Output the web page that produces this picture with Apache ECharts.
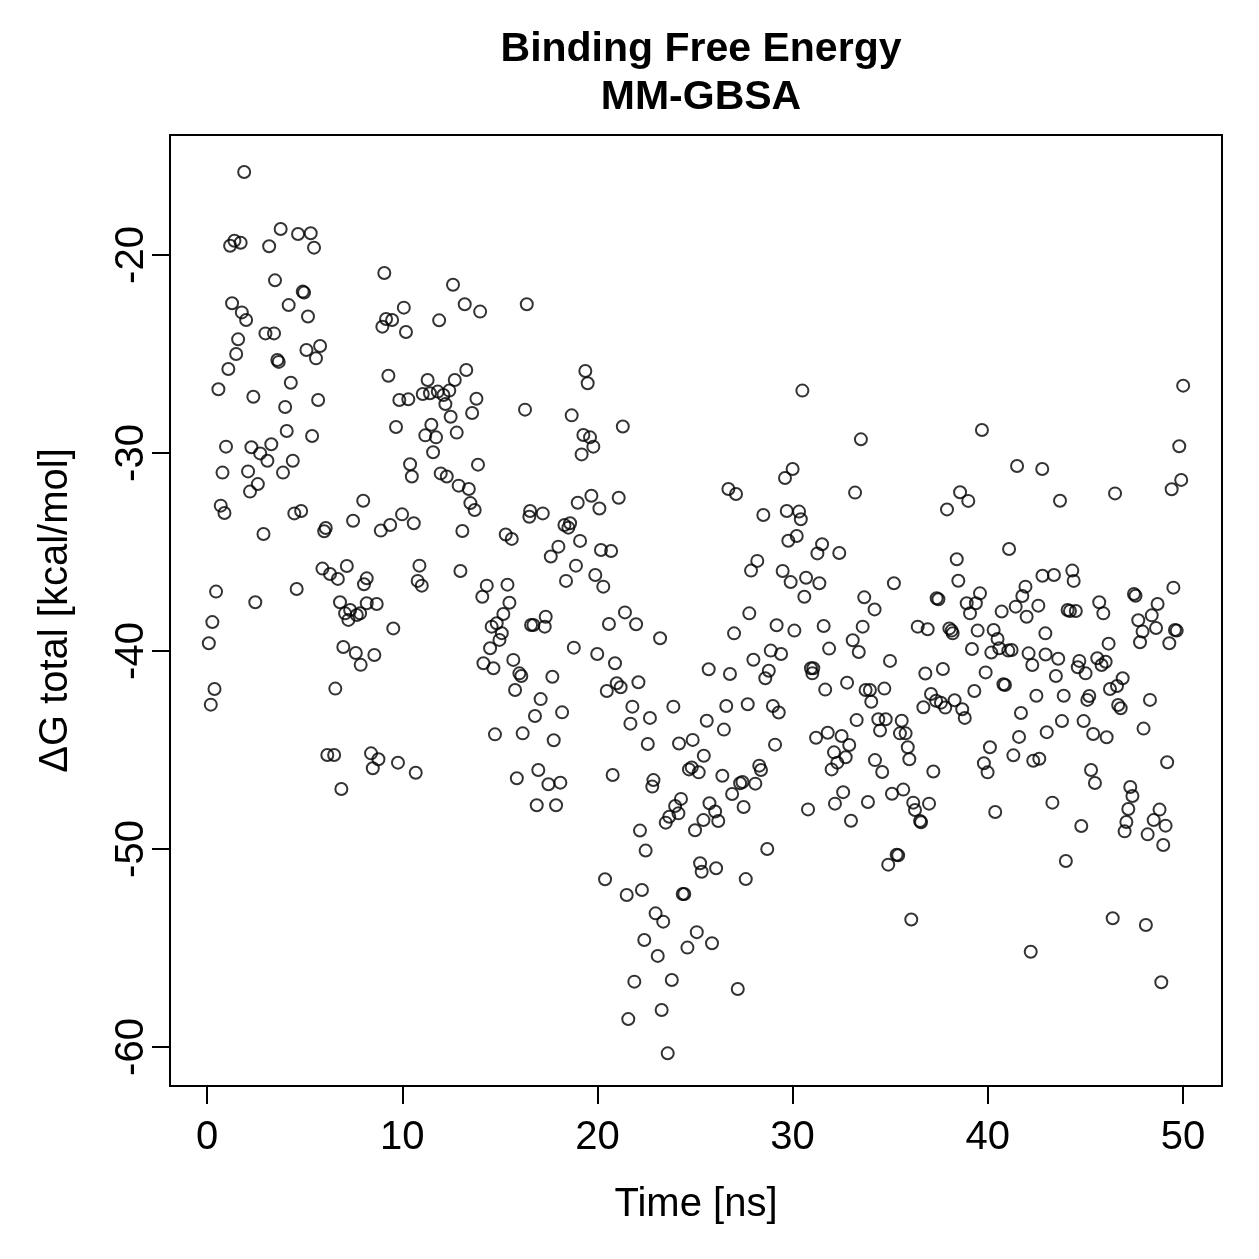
<!DOCTYPE html>
<html>
<head>
<meta charset="utf-8">
<script src="https://cdn.jsdelivr.net/npm/echarts@6/dist/echarts.min.js"></script>
<style>
  html, body { margin: 0; padding: 0; background: #fff; }
  #main { width: 1259px; height: 1259px; }
</style>
</head>
<body>
<div id="main"></div>
<script>
// simulation time [ns]
var time = [
  0.09,0.19,0.27,0.38,0.46,0.58,0.70,0.79,0.89,0.97,
  1.09,1.18,1.28,1.40,1.49,1.59,1.72,1.78,1.90,2.00,
  2.10,2.20,2.27,2.37,2.47,2.60,2.72,2.89,2.99,3.09,
  3.18,3.29,3.43,3.48,3.60,3.67,3.77,3.89,4.00,4.08,
  4.18,4.29,4.39,4.47,4.59,4.66,4.82,4.90,4.97,5.09,
  5.17,5.31,5.38,5.48,5.58,5.69,5.79,5.91,6.00,6.08,
  6.16,6.30,6.51,6.57,6.70,6.81,6.88,6.98,7.07,7.16,
  7.24,7.33,7.48,7.62,7.67,7.84,7.87,8.00,8.04,8.18,
  8.18,8.40,8.49,8.57,8.69,8.78,8.90,8.98,9.08,9.17,
  9.29,9.38,9.48,9.54,9.68,9.78,9.85,9.99,10.08,10.19,
  10.31,10.40,10.49,10.59,10.69,10.79,10.88,11.00,11.05,11.18,
  11.30,11.42,11.49,11.58,11.73,11.82,11.89,11.97,12.11,12.21,
  12.28,12.41,12.48,12.60,12.69,12.79,12.89,12.98,13.08,13.20,
  13.28,13.41,13.49,13.58,13.71,13.80,13.88,13.99,14.10,14.16,
  14.33,14.50,14.58,14.67,14.75,14.84,14.98,15.10,15.18,15.30,
  15.39,15.49,15.61,15.69,15.78,15.87,16.00,16.10,16.17,16.29,
  16.38,16.51,16.55,16.60,16.72,16.80,16.89,16.97,17.09,17.20,
  17.30,17.35,17.49,17.61,17.69,17.76,17.88,18.00,18.10,18.19,
  18.31,18.39,18.51,18.60,18.68,18.79,18.90,18.99,19.11,19.19,
  19.28,19.38,19.50,19.62,19.69,19.79,19.89,19.99,20.10,20.18,
  20.30,20.39,20.48,20.59,20.70,20.78,20.90,20.99,21.09,21.19,
  21.30,21.41,21.50,21.58,21.69,21.79,21.89,21.98,22.10,22.18,
  22.28,22.40,22.47,22.58,22.69,22.81,22.87,22.98,23.09,23.21,
  23.29,23.37,23.50,23.60,23.68,23.81,23.89,23.98,24.15,24.18,
  24.28,24.37,24.45,24.61,24.69,24.83,24.88,25.00,25.09,25.19,
  25.26,25.34,25.43,25.45,25.60,25.70,25.74,25.87,26.03,26.08,
  26.19,26.40,26.48,26.60,26.71,26.79,26.90,27.00,27.10,27.19,
  27.31,27.43,27.49,27.60,27.70,27.78,27.87,27.99,28.09,28.19,
  28.29,28.38,28.50,28.60,28.70,28.78,28.88,28.99,29.10,29.18,
  29.29,29.41,29.49,29.61,29.70,29.78,29.90,30.00,30.09,30.21,
  30.33,30.42,30.50,30.60,30.69,30.79,30.94,31.01,31.06,31.20,
  31.27,31.37,31.51,31.59,31.67,31.80,31.87,32.00,32.12,32.17,
  32.29,32.39,32.51,32.59,32.72,32.79,32.90,32.99,33.08,33.20,
  33.28,33.39,33.50,33.59,33.67,33.74,33.86,33.96,34.03,34.20,
  34.22,34.39,34.48,34.59,34.70,34.77,34.90,34.99,35.09,35.19,
  35.33,35.41,35.50,35.59,35.67,35.79,35.90,35.98,36.08,36.18,
  36.27,36.41,36.53,36.58,36.70,36.80,36.92,36.99,37.09,37.21,
  37.35,37.38,37.47,37.60,37.70,37.82,37.91,38.03,38.15,38.20,
  38.30,38.41,38.49,38.58,38.69,38.82,38.92,39.00,39.09,39.19,
  39.31,39.39,39.48,39.60,39.70,39.80,39.89,39.99,40.11,40.18,
  40.30,40.38,40.50,40.59,40.71,40.80,40.88,41.05,41.09,41.22,
  41.31,41.43,41.50,41.60,41.70,41.77,41.93,41.99,42.09,42.20,
  42.28,42.33,42.49,42.59,42.64,42.79,42.80,42.95,42.96,43.02,
  43.31,43.39,43.49,43.61,43.70,43.80,43.89,44.00,44.09,44.21,
  44.33,44.40,44.51,44.61,44.69,44.79,44.91,45.01,45.10,45.20,
  45.29,45.40,45.49,45.61,45.71,45.83,45.92,46.04,46.09,46.19,
  46.26,46.40,46.52,46.62,46.68,46.81,46.91,47.01,47.10,47.20,
  47.30,47.41,47.49,47.57,47.71,47.80,47.93,47.98,48.10,48.19,
  48.31,48.40,48.50,48.62,48.70,48.80,48.89,48.99,49.11,49.19,
  49.30,49.42,49.51,49.59,49.68,49.81,49.91,50.01
];

// total binding free energy [kcal/mol], same order as time
var dG = [
  -39.61,-42.71,-38.54,-41.92,-37.00,-26.78,-32.66,-30.99,-33.03,-29.68,
  -25.76,-19.53,-22.44,-19.28,-25.00,-24.26,-19.38,-22.90,-15.81,-23.28,
  -30.93,-31.95,-29.71,-27.16,-37.54,-31.57,-30.02,-34.09,-23.96,-30.39,
  -19.56,-29.56,-23.96,-21.28,-25.30,-25.40,-18.69,-30.99,-27.68,-28.89,
  -22.53,-26.45,-30.39,-33.05,-36.87,-18.94,-32.93,-21.85,-21.90,-24.80,
  -23.11,-18.90,-29.14,-19.63,-25.22,-27.32,-24.60,-35.84,-33.95,-33.79,
  -45.25,-36.11,-45.25,-41.90,-36.36,-37.54,-46.97,-39.80,-38.10,-35.71,
  -38.43,-37.93,-33.42,-40.10,-38.18,-38.10,-40.70,-32.41,-36.63,-36.33,
  -37.59,-45.17,-45.92,-40.20,-37.63,-45.47,-33.92,-23.62,-20.91,-23.23,
  -26.10,-33.64,-23.28,-38.86,-28.69,-45.64,-27.32,-33.10,-22.66,-23.89,
  -27.29,-30.57,-31.19,-33.55,-46.15,-36.46,-35.69,-36.70,-27.02,-29.11,
  -26.31,-26.98,-28.57,-29.96,-29.21,-26.90,-23.30,-31.03,-27.07,-27.53,
  -31.19,-26.85,-28.17,-21.50,-26.31,-28.97,-31.65,-35.96,-33.94,-22.49,
  -25.81,-31.82,-32.53,-27.98,-32.88,-27.26,-30.59,-22.86,-37.26,-40.62,
  -36.70,-39.86,-38.77,-40.87,-44.21,-38.60,-39.44,-39.10,-38.13,-34.12,
  -36.65,-37.56,-34.34,-40.45,-41.97,-46.43,-41.13,-41.26,-44.16,-27.81,
  -22.49,-33.22,-32.93,-38.69,-38.69,-43.28,-47.79,-46.01,-42.43,-33.05,
  -38.77,-38.27,-46.73,-35.23,-41.30,-44.51,-47.79,-34.73,-46.65,-43.10,
  -33.64,-36.46,-33.77,-33.55,-28.10,-39.83,-35.69,-32.51,-34.44,-30.07,
  -29.09,-25.86,-26.48,-29.21,-32.16,-29.68,-36.16,-40.15,-32.80,-34.90,
  -36.75,-51.53,-42.02,-38.64,-34.95,-46.26,-40.62,-41.63,-32.26,-41.83,
  -28.66,-38.05,-52.32,-58.59,-43.67,-42.81,-56.70,-38.65,-41.58,-49.07,
  -52.07,-54.60,-50.08,-44.70,-43.38,-46.85,-46.52,-53.25,-55.40,-39.36,
  -58.13,-53.67,-48.67,-60.32,-48.37,-56.62,-42.81,-47.83,-48.20,-44.67,
  -47.47,-52.27,-52.27,-54.98,-45.98,-45.88,-44.49,-49.05,-54.20,-46.13,
  -50.72,-51.15,-48.54,-45.29,-43.52,-40.92,-47.69,-54.76,-48.11,-50.97,
  -48.59,-46.30,-43.97,-42.78,-31.82,-41.16,-47.22,-39.11,-32.07,-57.07,
  -46.68,-46.62,-47.88,-51.52,-42.69,-38.10,-35.94,-40.44,-46.70,-35.45,
  -45.79,-46.01,-33.13,-41.38,-50.00,-41.00,-39.98,-42.78,-44.73,-38.70,
  -43.11,-40.15,-35.96,-31.26,-32.93,-34.43,-36.52,-30.81,-38.97,-34.19,
  -32.96,-33.35,-26.85,-37.26,-36.30,-48.00,-40.87,-41.13,-40.87,-44.38,
  -35.07,-36.58,-34.61,-38.74,-41.95,-44.13,-39.88,-45.98,-45.12,-47.71,
  -45.64,-35.05,-44.29,-47.13,-45.37,-41.60,-44.75,-48.57,-39.46,-32.00,
  -43.49,-40.05,-29.31,-38.77,-37.29,-41.97,-47.63,-41.97,-42.56,-37.90,
  -45.51,-43.45,-44.02,-46.11,-41.90,-43.45,-50.79,-40.50,-47.21,-36.58,
  -50.29,-50.32,-44.16,-43.52,-47.00,-44.16,-44.86,-45.47,-53.56,-47.66,
  -48.03,-38.77,-48.59,-48.65,-42.84,-41.14,-38.90,-47.71,-42.17,-46.09,
  -42.51,-37.34,-37.39,-42.61,-40.91,-42.86,-32.85,-38.86,-38.97,-39.11,
  -42.49,-35.37,-36.45,-31.98,-42.94,-43.38,-37.59,-32.42,-38.10,-39.90,
  -42.02,-37.59,-38.97,-37.09,-28.84,-45.67,-41.08,-46.13,-44.86,-40.08,
  -38.94,-48.13,-39.39,-39.86,-38.01,-41.68,-41.72,-39.98,-34.85,-39.95,
  -45.27,-37.76,-30.66,-44.34,-43.13,-37.22,-36.75,-38.27,-40.12,-55.19,
  -40.71,-45.54,-42.26,-37.71,-45.44,-30.81,-36.20,-39.11,-40.18,-44.10,
  -47.66,-36.16,-41.26,-40.39,-32.41,-43.54,-42.26,-50.61,-37.93,-37.98,
  -35.94,-36.46,-37.98,-40.82,-40.50,-48.84,-43.54,-41.13,-42.47,-42.27,
  -46.01,-44.19,-46.67,-40.37,-37.54,-40.71,-38.10,-40.54,-44.36,-39.63,
  -41.92,-53.50,-32.04,-41.77,-42.73,-42.89,-41.38,-49.11,-48.64,-47.98,
  -46.87,-47.32,-37.12,-37.21,-38.45,-39.56,-39.02,-43.92,-53.84,-49.26,
  -42.47,-38.20,-48.54,-38.84,-37.63,-48.01,-56.73,-49.80,-48.82,-45.62,
  -39.61,-31.83,-36.80,-38.94,-38.97,-29.66,-31.36,-26.60
];

var xTicks = [0, 10, 20, 30, 40, 50];
var yTicks = [-60, -50, -40, -30, -20];

var points = time.map(function (t, i) { return [t, dG[i]]; });

var font = 'Liberation Sans';
var chart = echarts.init(document.getElementById('main'), null, { renderer: 'canvas' });

chart.setOption({
  animation: false,
  backgroundColor: '#ffffff',
  title: {
    text: 'Binding Free Energy\nMM-GBSA',
    left: 696,
    top: 21,
    textAlign: 'center',
    textStyle: {
      fontFamily: font,
      fontSize: 41,
      fontWeight: 'bold',
      lineHeight: 48,
      color: '#000'
    }
  },
  grid: {
    left: 170, right: 37, top: 135, bottom: 173,
    show: true,
    borderColor: '#000',
    borderWidth: 2,
    backgroundColor: 'transparent'
  },
  xAxis: {
    type: 'value',
    min: -1.9,
    max: 52.0,
    name: 'Time [ns]',
    nameLocation: 'middle',
    nameGap: 99,
    nameMoveOverlap: false,
    nameTextStyle: { fontFamily: font, fontSize: 40, color: '#000' },
    axisLine: { show: false, onZero: false },
    splitLine: { show: false },
    axisTick: {
      show: true, inside: false, length: 18,
      customValues: xTicks,
      lineStyle: { color: '#000', width: 2 }
    },
    axisLabel: {
      customValues: xTicks,
      margin: 32,
      fontFamily: font,
      fontSize: 40,
      color: '#000'
    }
  },
  yAxis: {
    type: 'value',
    min: -61.97,
    max: -13.94,
    name: 'ΔG total [kcal/mol]',
    nameLocation: 'middle',
    nameGap: 94,
    nameMoveOverlap: false,
    nameTextStyle: { fontFamily: font, fontSize: 40, color: '#000' },
    axisLine: { show: false, onZero: false },
    splitLine: { show: false },
    axisTick: {
      show: true, inside: false, length: 18,
      customValues: yTicks,
      lineStyle: { color: '#000', width: 2 }
    },
    axisLabel: {
      customValues: yTicks,
      rotate: 90,
      margin: 18,
      fontFamily: font,
      fontSize: 40,
      color: '#000'
    }
  },
  series: [{
    type: 'scatter',
    data: points,
    symbol: 'circle',
    symbolSize: 12,
    silent: true,
    itemStyle: {
      color: 'rgba(0,0,0,0)',
      borderColor: '#000',
      borderWidth: 2
    }
  }]
});
</script>
</body>
</html>
